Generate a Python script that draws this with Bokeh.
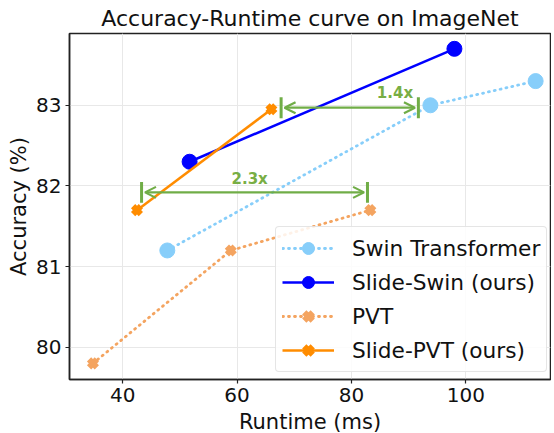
from bokeh.plotting import figure
from bokeh.models import Range1d, FixedTicker, Legend, LegendItem, Arrow, OpenHead, ColumnDataSource
from bokeh.embed import file_html
from bokeh.resources import INLINE
from bokeh.core.properties import value

# ---- data ----
swin_x = [47.8, 93.8, 112.2]
swin_y = [81.2, 83.0, 83.3]
slide_swin_x = [51.7, 98.0]
slide_swin_y = [82.3, 83.7]
pvt_x = [34.8, 58.9, 83.3]
pvt_y = [79.8, 81.2, 81.7]
slide_pvt_x = [42.5, 66.0]
slide_pvt_y = [81.7, 82.95]

series_names = ["Swin Transformer", "Slide-Swin (ours)", "PVT", "Slide-PVT (ours)"]

arrow_x0 = [43.3, 67.7]
arrow_x1 = [82.8, 91.7]
arrow_y = [81.92, 82.97]
speedup_labels = ["2.3x", "1.4x"]
label_x = [62.2, 87.6]
label_y = [82.08, 83.15]

x_ticks = [40, 60, 80, 100]
y_ticks = [80, 81, 82, 83]

FONT = "DejaVu Sans"
GREEN = "#70ad47"

p = figure(
    frame_width=481, frame_height=346,
    min_border_left=69, min_border_right=1, min_border_top=10, min_border_bottom=10,
    x_range=Range1d(30.7, 114.8), y_range=Range1d(79.6, 83.89),
    output_backend="svg", toolbar_location=None,
    title="Accuracy-Runtime curve on ImageNet",
)

p.title.text_font = FONT
p.title.text_font_size = "22px"
p.title.text_font_style = "normal"
p.title.align = "center"
p.title.text_color = "#111111"
p.title.standoff = 6

p.outline_line_color = "#222222"
p.outline_line_width = 1.5
p.background_fill_color = "white"
p.border_fill_color = "white"

for ax in (p.xaxis[0], p.yaxis[0]):
    ax.axis_line_color = "#222222"
    ax.axis_line_width = 1.5
    ax.major_tick_line_color = "#222222"
    ax.major_tick_line_width = 1.2
    ax.major_tick_out = 4
    ax.major_tick_in = 0
    ax.minor_tick_line_color = None
    ax.major_label_text_font = FONT
    ax.major_label_text_font_size = "20px"
    ax.major_label_text_color = "#111111"
    ax.major_label_standoff = 4
    ax.axis_label_text_font = FONT
    ax.axis_label_text_font_size = "21px"
    ax.axis_label_text_font_style = "normal"
    ax.axis_label_text_color = "#111111"
    ax.axis_label_standoff = 2

p.xaxis[0].axis_label_standoff = 5
p.xaxis.ticker = FixedTicker(ticks=x_ticks)
p.yaxis.ticker = FixedTicker(ticks=y_ticks)
p.xaxis.axis_label = "Runtime (ms)"
p.yaxis.axis_label = "Accuracy (%)"

p.xgrid.ticker = FixedTicker(ticks=x_ticks)
p.ygrid.ticker = FixedTicker(ticks=y_ticks)
p.grid.grid_line_color = "#e8e8e8"
p.grid.grid_line_width = 1

# ---- series ----
l1 = p.line(swin_x, swin_y, line_color="#87cefa", line_width=2.8, line_dash="1 5", line_cap="round")
s1 = p.scatter(swin_x, swin_y, marker="circle", size=15, fill_color="#87cefa", line_color="#87cefa")

l3 = p.line(pvt_x, pvt_y, line_color="#f4a460", line_width=2.8, line_dash="1 5", line_cap="round")
s3 = p.scatter(pvt_x, pvt_y, marker="x", size=11, line_color="#f4a460", line_width=6)

l2 = p.line(slide_swin_x, slide_swin_y, line_color="#0000ff", line_width=2.5)
s2 = p.scatter(slide_swin_x, slide_swin_y, marker="circle", size=15, fill_color="#0000ff", line_color="#0000ff")

l4 = p.line(slide_pvt_x, slide_pvt_y, line_color="#ff8c00", line_width=2.5)
s4 = p.scatter(slide_pvt_x, slide_pvt_y, marker="x", size=11, line_color="#ff8c00", line_width=6)

# ---- speed-up annotations ----
cap = 0.13
shrink = 0.6
p.segment(x0=arrow_x0, y0=[y - cap for y in arrow_y], x1=arrow_x0, y1=[y + cap for y in arrow_y],
          line_color=GREEN, line_width=3)
p.segment(x0=arrow_x1, y0=[y - cap for y in arrow_y], x1=arrow_x1, y1=[y + cap for y in arrow_y],
          line_color=GREEN, line_width=3)
asrc = ColumnDataSource(dict(xs=[x + shrink for x in arrow_x0], xe=[x - shrink for x in arrow_x1], y=arrow_y))
p.add_layout(Arrow(x_start="xs", y_start="y", x_end="xe", y_end="y", source=asrc,
                   line_color=GREEN, line_width=2.2,
                   start=OpenHead(size=11, line_color=GREEN, line_width=2.2),
                   end=OpenHead(size=11, line_color=GREEN, line_width=2.2)))
p.text(x=label_x, y=label_y, text=speedup_labels, text_font=value(FONT), text_font_style="bold",
       text_font_size="15px", text_color="#78ae44", text_align="center", text_baseline="middle")

# ---- legend ----
legend = Legend(items=[
    LegendItem(label=series_names[0], renderers=[l1, s1]),
    LegendItem(label=series_names[1], renderers=[l2, s2]),
    LegendItem(label=series_names[2], renderers=[l3, s3]),
    LegendItem(label=series_names[3], renderers=[l4, s4]),
], location=(206, 7))
legend.label_text_font = FONT
legend.label_text_font_size = "21.7px"
legend.label_text_color = "#111111"
legend.glyph_width = 52
legend.glyph_height = 30
legend.label_height = 30
legend.label_standoff = 18
legend.spacing = 4
legend.padding = 6
legend.margin = 0
legend.border_line_color = "#cccccc"
legend.border_line_width = 1
legend.background_fill_alpha = 0.85
try:
    legend.border_radius = 4
except Exception:
    pass
p.add_layout(legend, "center")

open("out.html", "w").write(file_html(p, INLINE))
